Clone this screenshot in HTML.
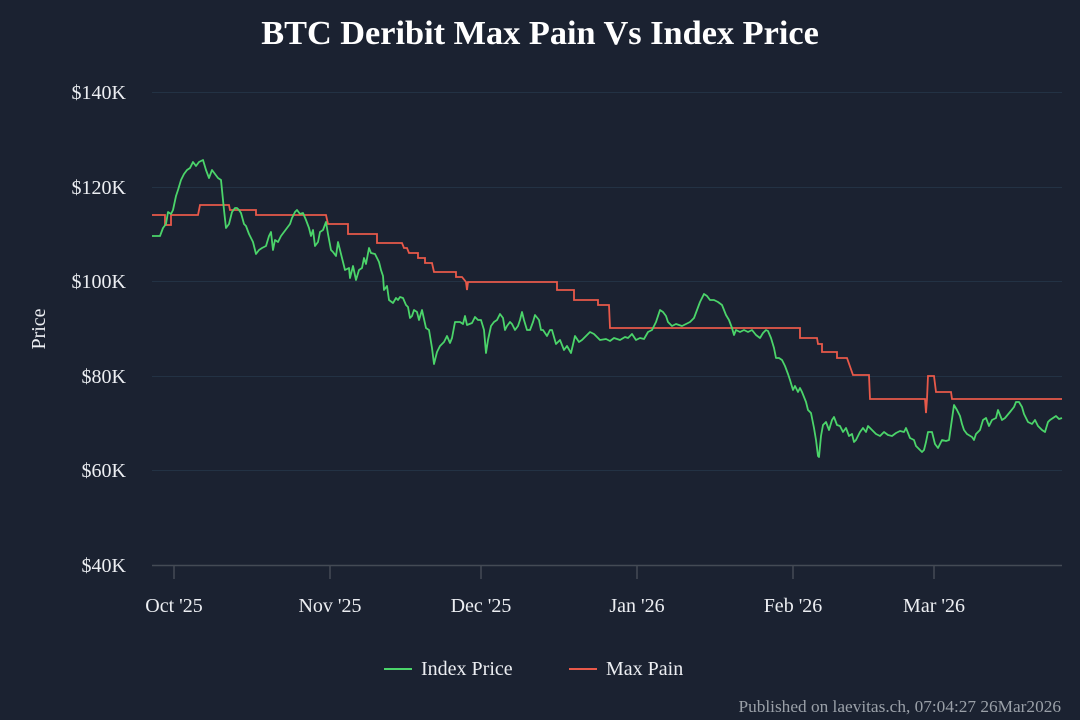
<!DOCTYPE html>
<html><head><meta charset="utf-8"><style>
html,body{margin:0;padding:0;background:#1b2231;}
svg{display:block;font-family:"Liberation Serif",serif;}
</style></head><body>
<svg width="1080" height="720" viewBox="0 0 1080 720">
<rect width="1080" height="720" fill="#1b2231"/>
<text x="540" y="44" text-anchor="middle" fill="#fff" font-size="34.3" font-weight="bold">BTC Deribit Max Pain Vs Index Price</text>
<g stroke="#233244" stroke-width="1">
<line x1="152" x2="1062" y1="92.5" y2="92.5"/><line x1="152" x2="1062" y1="187.5" y2="187.5"/><line x1="152" x2="1062" y1="281.5" y2="281.5"/><line x1="152" x2="1062" y1="376.5" y2="376.5"/><line x1="152" x2="1062" y1="470.5" y2="470.5"/>
</g>
<line x1="152" x2="1062" y1="565.5" y2="565.5" stroke="#444b55" stroke-width="1.5"/>
<g stroke="#444b55" stroke-width="1.5">
<line x1="174" x2="174" y1="565" y2="579"/><line x1="330" x2="330" y1="565" y2="579"/><line x1="481" x2="481" y1="565" y2="579"/><line x1="637" x2="637" y1="565" y2="579"/><line x1="793" x2="793" y1="565" y2="579"/><line x1="934" x2="934" y1="565" y2="579"/>
</g>
<g fill="#eceef2" font-size="20" text-anchor="end">
<text x="126" y="99">$140K</text><text x="126" y="194">$120K</text><text x="126" y="288">$100K</text><text x="126" y="383">$80K</text><text x="126" y="477">$60K</text><text x="126" y="572">$40K</text>
</g>
<text transform="translate(45,329) rotate(-90)" fill="#eceef2" font-size="20" text-anchor="middle">Price</text>
<g fill="#eceef2" font-size="20" text-anchor="middle">
<text x="174" y="612">Oct '25</text><text x="330" y="612">Nov '25</text><text x="481" y="612">Dec '25</text><text x="637" y="612">Jan '26</text><text x="793" y="612">Feb '26</text><text x="934" y="612">Mar '26</text>
</g>
<polyline fill="none" stroke="#e8594a" stroke-width="1.8" points="152,215 165,215 165,225 171,225 171,215 198,215 200,205 229,205 230,210 256,210 256,215 326,215 328,224 348,224 348,234 377,234 377,243 402,243 404,248 407,248 409,253 418,253 418,258 425,258 425,263 432,263 434,272 456,272 456,277 462,277 466,282 467,290 468,282 557,282 557,290 574,290 574,300 598,300 598,305 609,305 610,328 800,328 800,338 817,338 818,344 822,344 822,352 837,352 837,358 847,358 853,375 869,375 870,399 925,399 926,413 927,399 928,376 934,376 936,392 951,392 952,399 1062,399"/>
<polyline fill="none" stroke="#4bd46a" stroke-width="1.8" stroke-linejoin="round" points="152,236 160,236 163,228 166,224 168,212 171,214 173,210 176,196 178,190 181,180 184,174 187,170 190,168 193,162 196,166 199,162 203,160 206,170 209,178 212,170 215,174 218,178 221,180 224,210 226,228 229,224 232,212 235,208 237,208 239,210 241,213 244,224 246,226 249,234 253,242 256,254 259,250 262,248 266,246 269,236 271,232 273,250 275,240 278,242 281,236 284,232 287,228 290,224 292,218 295,212 297,210 300,214 303,213 306,220 309,228 311,236 313,230 315,246 318,242 320,232 323,230 326,222 328,234 331,250 333,252 336,256 338,242 341,254 345,270 349,268 350,278 353,266 356,280 359,270 362,268 364,258 366,264 369,248 371,253 375,254 377,258 379,262 381,270 383,276 384,290 387,286 389,300 393,303 396,298 398,300 400,297 403,298 406,305 408,307 410,318 412,316 414,310 417,312 419,320 422,310 426,328 429,330 432,348 434,364 437,352 440,346 444,342 447,336 450,343 452,338 455,322 457,322 460,322 463,324 465,316 467,325 472,323 475,317 478,320 481,320 484,330 486,353 488,340 491,326 494,322 497,320 500,314 503,318 505,330 507,326 510,322 512,324 515,330 518,326 520,320 522,312 524,320 527,330 530,330 533,322 535,315 539,320 541,330 543,330 547,336 550,330 552,330 556,344 560,340 564,350 567,346 571,353 575,336 579,342 582,340 586,336 590,332 594,334 597,337 600,340 606,339 610,341 614,338 620,340 625,337 628,338 632,334 636,340 640,338 644,339 648,332 652,330 656,322 660,310 663,312 666,316 668,322 672,326 676,324 682,326 686,324 690,322 694,318 697,310 700,302 704,294 707,296 710,300 714,300 718,302 722,305 726,315 729,320 732,328 734,335 736,330 740,332 744,330 748,332 752,330 756,335 760,338 763,333 766,330 768,331 771,338 774,348 776,358 779,358 782,360 785,366 788,374 790,380 793,390 795,386 798,392 800,388 802,392 806,402 808,410 811,413 814,428 816,440 818,456 819,457 821,436 823,425 826,422 829,430 832,420 834,417 837,425 840,426 843,432 846,428 849,436 852,434 854,442 856,440 860,432 863,428 866,432 868,426 870,428 872,430 876,434 880,436 884,432 888,435 892,436 896,433 900,431 904,432 906,428 910,438 914,440 916,446 918,448 920,450 922,452 924,450 926,442 928,432 932,432 935,444 938,448 942,440 946,441 949,440 951,426 954,405 957,410 960,416 962,424 964,430 967,434 972,437 974,440 976,434 980,430 983,420 986,418 989,426 992,420 996,418 998,410 1002,420 1005,418 1010,412 1014,407 1016,402 1019,402 1022,407 1024,414 1028,422 1032,424 1035,420 1038,426 1042,430 1045,432 1048,422 1050,420 1053,418 1056,416 1059,419 1062,418"/>
<line x1="384" x2="412" y1="669" y2="669" stroke="#4bd46a" stroke-width="2"/>
<text x="421" y="675" fill="#eceef2" font-size="20">Index Price</text>
<line x1="569" x2="597" y1="669" y2="669" stroke="#e8594a" stroke-width="2"/>
<text x="606" y="675" fill="#eceef2" font-size="20">Max Pain</text>
<text x="1061" y="712" fill="#9aa0a8" font-size="17.3" text-anchor="end">Published on laevitas.ch, 07:04:27 26Mar2026</text>
</svg>
</body></html>
